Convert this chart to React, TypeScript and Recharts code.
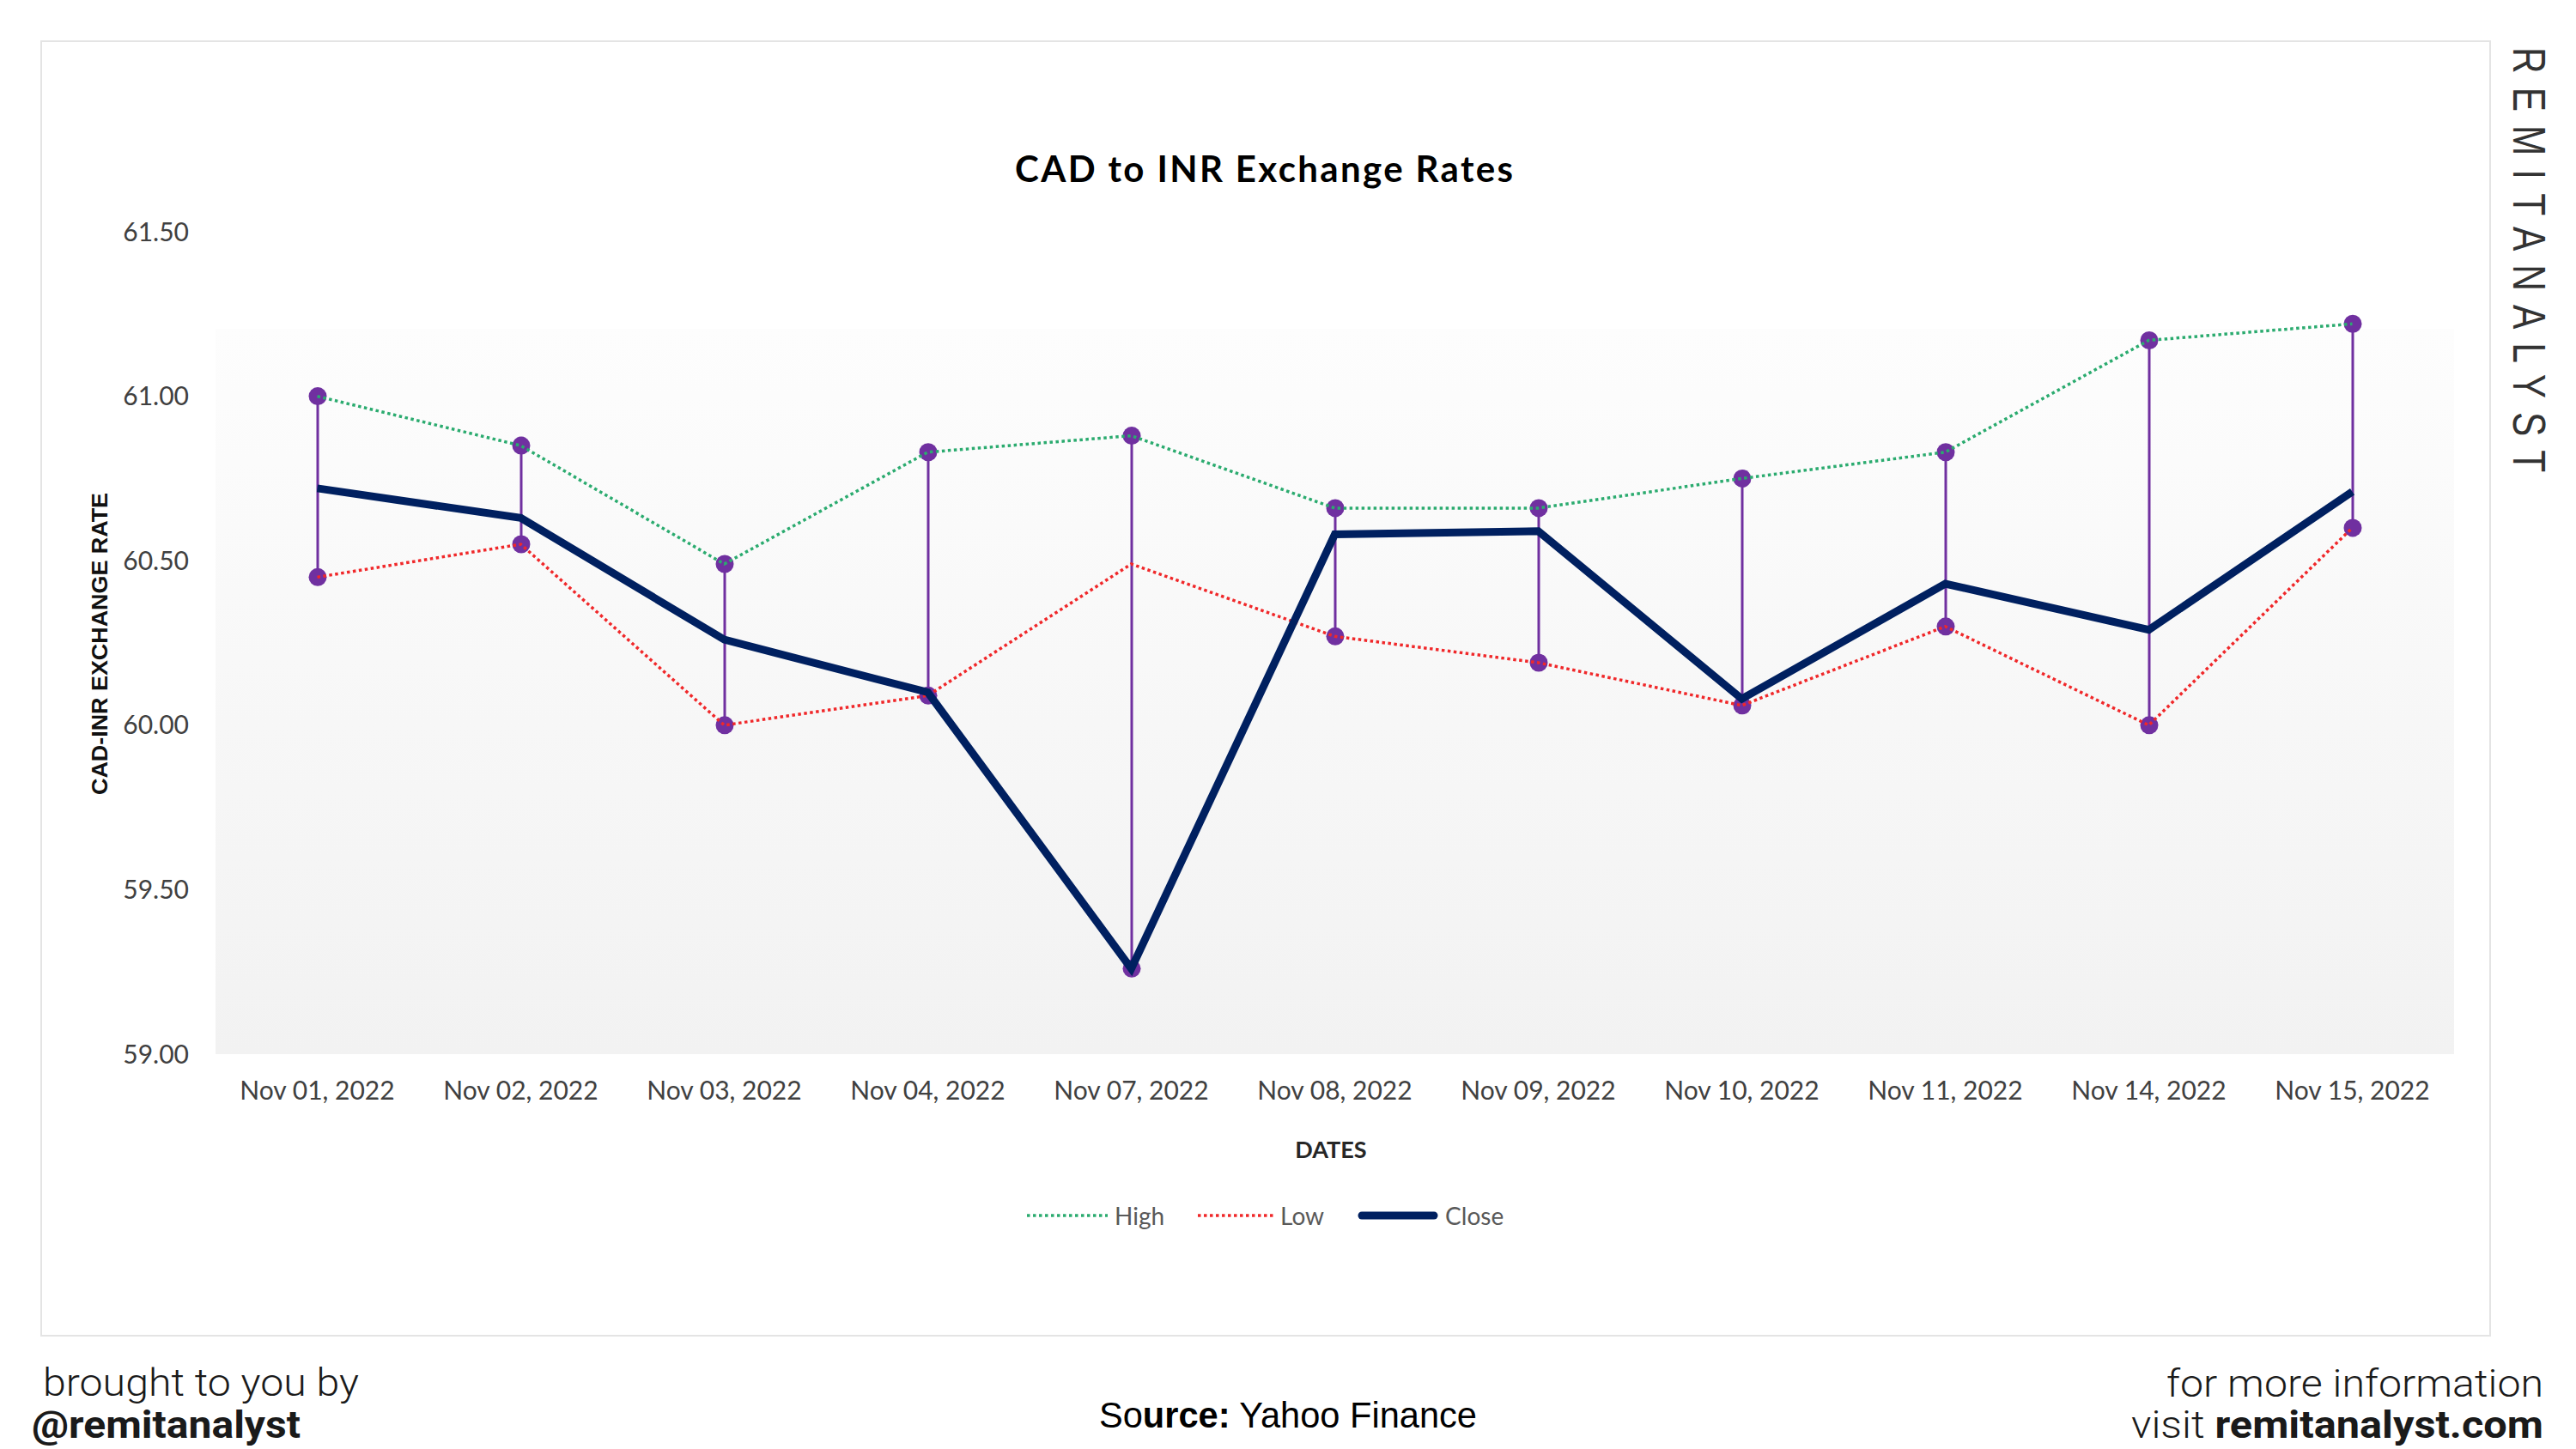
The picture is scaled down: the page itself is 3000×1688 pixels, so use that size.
import React from 'react';
import { ComposedChart, Line, Bar, XAxis, YAxis, CartesianGrid, Legend } from 'recharts';

const dates = [
  'Nov 01, 2022', 'Nov 02, 2022', 'Nov 03, 2022', 'Nov 04, 2022', 'Nov 07, 2022', 'Nov 08, 2022',
  'Nov 09, 2022', 'Nov 10, 2022', 'Nov 11, 2022', 'Nov 14, 2022', 'Nov 15, 2022',
];
const highValues = [61.0, 60.85, 60.49, 60.83, 60.88, 60.66, 60.66, 60.75, 60.83, 61.17, 61.22];
const lowValues = [60.45, 60.55, 60.0, 60.09, 60.49, 60.27, 60.19, 60.06, 60.3, 60.0, 60.6];
const closeValues = [60.72, 60.63, 60.26, 60.1, 59.26, 60.58, 60.59, 60.08, 60.43, 60.29, 60.71];
const yTicks = [59, 59.5, 60, 60.5, 61, 61.5];
const legendOrder = ['high', 'low', 'close'];

const data = dates.map((d, i) => {
  const h = highValues[i];
  const l = lowValues[i];
  const c = closeValues[i];
  return { date: d, high: h, low: l, close: c, range: [Math.min(h, l, c), Math.max(h, l, c)] };
});

const PURPLE = '#7030A0';

const HiLoShape = (props: any) => {
  const { x, y, width, height } = props;
  if (x == null || y == null) return null;
  const cx = x + width / 2;
  const top = Math.min(y, y + height);
  const bottom = Math.max(y, y + height);
  return (
    <g>
      <line x1={cx} x2={cx} y1={top} y2={bottom} stroke={PURPLE} strokeWidth={3} />
      <circle cx={cx} cy={top} r={10.5} fill={PURPLE} />
      <circle cx={cx} cy={bottom} r={10.5} fill={PURPLE} />
    </g>
  );
};

const legendStyles: Record<string, any> = {
  high: { stroke: '#2bab6f', width: 3.5, dash: '3.5 3.5', len: 94, cap: 'butt' },
  low: { stroke: '#f0282a', width: 3.5, dash: '3.5 3.5', len: 88, cap: 'butt' },
  close: { stroke: '#002060', width: 9, dash: undefined, len: 94, cap: 'round' },
};

const LegendContent = (props: any) => {
  const payload = (props.payload || [])
    .filter((p: any) => legendStyles[p.dataKey])
    .sort((a: any, b: any) => legendOrder.indexOf(a.dataKey) - legendOrder.indexOf(b.dataKey));
  return (
    <div style={{ display: 'flex', alignItems: 'center', whiteSpace: 'nowrap' }}>
      {payload.map((p: any, i: number) => {
        const s = legendStyles[p.dataKey];
        return (
          <div key={p.dataKey} style={{ display: 'flex', alignItems: 'center', marginLeft: i === 0 ? 0 : 39 }}>
            <svg width={s.len} height={14} style={{ display: 'block' }}>
              <line x1={s.cap === 'round' ? 5 : 0} x2={s.cap === 'round' ? s.len - 5 : s.len} y1={7} y2={7}
                stroke={s.stroke} strokeWidth={s.width} strokeDasharray={s.dash} strokeLinecap={s.cap} />
            </svg>
            <span style={{ marginLeft: 8, fontFamily: 'Lato', fontSize: 28, color: '#595959', lineHeight: '34px' }}>
              {p.value}
            </span>
          </div>
        );
      })}
    </div>
  );
};

const tickStyle = { fontFamily: 'Lato', fontSize: 30, fill: '#404040' };

export default function App() {
  return (
    <div style={{ position: 'absolute', left: 0, top: 0, width: 3000, height: 1688, background: '#ffffff', overflow: 'hidden' }}>
      <svg width={3000} height={1688} style={{ position: 'absolute', left: 0, top: 0 }}>
        <defs>
          <linearGradient id="plotBg" x1="0" y1="0" x2="0" y2="1">
            <stop offset="0" stopColor="#ffffff" />
            <stop offset="0.118" stopColor="#ffffff" />
            <stop offset="0.118" stopColor="#fdfdfd" />
            <stop offset="1" stopColor="#f2f2f2" />
          </linearGradient>
        </defs>
        <rect x={48} y={48} width={2852} height={1508} fill="none" stroke="#e4e4e4" strokeWidth={2} />
      </svg>
      <div style={{ position: 'absolute', left: 0, top: 0 }}>
        <ComposedChart width={3000} height={1688} data={data} margin={{ top: 270, right: 142, bottom: 400, left: 0 }}>
          <CartesianGrid horizontal={false} vertical={false} fill="url(#plotBg)" fillOpacity={1} stroke="none" />
          <XAxis dataKey="date" axisLine={false} tickLine={false} tickSize={0} tickMargin={32} height={60}
            interval={0} tick={tickStyle} />
          <YAxis domain={[59, 61.5]} ticks={yTicks} allowDataOverflow axisLine={false} tickLine={false}
            tickSize={0} tickMargin={31} width={251} tick={tickStyle}
            tickFormatter={(v: number) => v.toFixed(2)} />
          <Legend layout="horizontal" verticalAlign="middle" align="center" content={<LegendContent />}
            wrapperStyle={{ position: 'absolute', left: 1196, top: 1399, width: 'auto', height: 'auto' }} />
          <Line type="linear" dataKey="high" name="High" stroke="#2bab6f" strokeWidth={3.5}
            strokeDasharray="3.5 3.5" dot={false} activeDot={false} isAnimationActive={false} />
          <Line type="linear" dataKey="low" name="Low" stroke="#f0282a" strokeWidth={3.5}
            strokeDasharray="3.5 3.5" dot={false} activeDot={false} isAnimationActive={false} />
          <Line type="linear" dataKey="close" name="Close" stroke="#002060" strokeWidth={9}
            dot={false} activeDot={false} isAnimationActive={false} />
          <Bar dataKey="range" barSize={20} shape={<HiLoShape />} legendType="none" isAnimationActive={false} />
        </ComposedChart>
      </div>
      <svg width={3000} height={1688} style={{ position: 'absolute', left: 0, top: 0, pointerEvents: 'none' }}>
        <text x={1472} y={212} textAnchor="middle" fontFamily="Lato" fontWeight={700} fontSize={42}
          fill="#000000" textLength={580} lengthAdjust="spacing">CAD to INR Exchange Rates</text>
        <text transform="translate(124.5,750) rotate(-90)" textAnchor="middle" fontFamily="Liberation Sans"
          fontWeight={700} fontSize={26} fill="#111111" textLength={352} lengthAdjust="spacingAndGlyphs">CAD-INR EXCHANGE RATE</text>
        <text x={1550} y={1349} textAnchor="middle" fontFamily="Lato" fontWeight={700} fontSize={27}
          fill="#262626">DATES</text>
        <text transform="translate(2927,55) rotate(90) scale(0.8,1)" fontFamily="Liberation Sans" fontSize={53}
          fill="#333333" textLength={619} lengthAdjust="spacing">REMITANALYST</text>
        <text x={50} y={1626} fontFamily="Roboto" fontWeight={300} fontSize={45} fill="#1a1a1a"
          textLength={368} lengthAdjust="spacingAndGlyphs">brought to you by</text>
        <text x={37} y={1675} fontFamily="Roboto" fontWeight={700} fontSize={45} fill="#1a1a1a"
          textLength={313} lengthAdjust="spacingAndGlyphs">@remitanalyst</text>
        <text x={1280} y={1663} fontFamily="Liberation Sans" fontSize={42} fill="#000000"
          textLength={440} lengthAdjust="spacingAndGlyphs">
          <tspan>So</tspan><tspan fontWeight={700}>urce:</tspan><tspan> Yahoo Finance</tspan>
        </text>
        <text x={2962} y={1627} textAnchor="end" fontFamily="Roboto" fontWeight={300} fontSize={45} fill="#1a1a1a"
          textLength={439} lengthAdjust="spacingAndGlyphs">for more information</text>
        <text x={2962} y={1675} textAnchor="end" fontFamily="Roboto" fontSize={45} fill="#1a1a1a"
          textLength={480} lengthAdjust="spacingAndGlyphs">
          <tspan fontWeight={300}>visit </tspan><tspan fontWeight={700}>remitanalyst.com</tspan>
        </text>
      </svg>
    </div>
  );
}
